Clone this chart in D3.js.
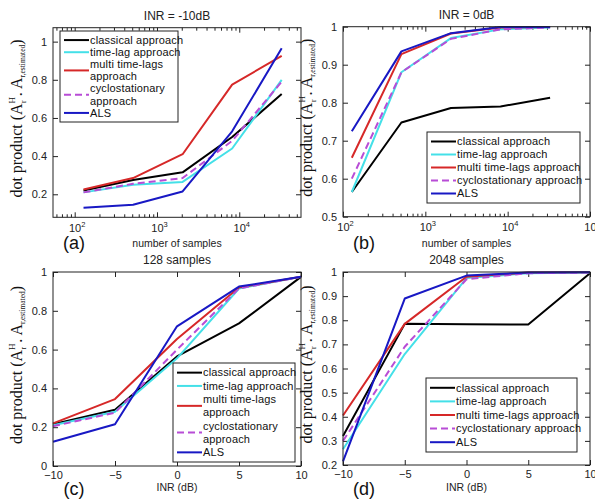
<!DOCTYPE html>
<html>
<head>
<meta charset="utf-8">
<script src="https://cdn.jsdelivr.net/npm/d3@7"></script>
<style>
  body { margin: 0; background: #fff; }
  svg { display: block; font-family: "Liberation Sans", Arial, sans-serif; }
</style>
</head>
<body>
<svg id="fig" width="595" height="499"></svg>
<script>
/* series shared by all four panels */
const seriesNames = ["classical approach", "time-lag approach", "multi time-lags approach", "cyclostationary approach", "ALS"];
const wrappedNames = [["classical approach"], ["time-lag approach"], ["multi time-lags", "approach"], ["cyclostationary", "approach"], ["ALS"]];
const seriesColors = ["#000000", "#44e0e8", "#d62828", "#b84cd6", "#1818c4"];
const seriesDash = [null, null, null, "7,4", null];

const sampleCounts = [128, 512, 2048, 8192, 32768];
const inrLevels = [-10, -5, 0, 5, 10];

// (a) INR = -10dB, one row per series
const inrMinus10 = [
    [0.22, 0.275, 0.315, 0.50, 0.725],
    [0.21, 0.25, 0.265, 0.44, 0.80],
    [0.225, 0.285, 0.41, 0.775, 0.925],
    [0.21, 0.255, 0.285, 0.48, 0.79],
    [0.13, 0.145, 0.215, 0.53, 0.965]
];
// (b) INR = 0dB
const inrZero = [
    [0.565, 0.748, 0.786, 0.79, 0.813],
    [0.565, 0.88, 0.97, 0.993, 0.998],
    [0.655, 0.928, 0.982, 0.998, 0.999],
    [0.60, 0.88, 0.968, 0.993, 0.998],
    [0.725, 0.935, 0.983, 0.999, 0.999]
];
// (c) 128 samples
const samples128 = [
    [0.215, 0.29, 0.565, 0.735, 0.975],
    [0.21, 0.28, 0.555, 0.915, 0.975],
    [0.22, 0.345, 0.655, 0.92, 0.975],
    [0.205, 0.275, 0.60, 0.915, 0.975],
    [0.125, 0.215, 0.72, 0.925, 0.975]
];
// (d) 2048 samples
const samples2048 = [
    [0.32, 0.785, 0.783, 0.782, 0.995],
    [0.265, 0.66, 0.975, 0.995, 0.998],
    [0.405, 0.785, 0.98, 0.998, 0.999],
    [0.30, 0.69, 0.97, 0.995, 0.998],
    [0.215, 0.89, 0.985, 0.998, 0.999]
];

const svg = d3.select("#fig");

const panels = [
    { tag: "(a)", title: "INR = -10dB", xlabel: "number of samples", values: inrMinus10, xs: sampleCounts,
      log: true, xDomain: [54.5, 56234], xTicks: [1e2, 1e3, 1e4],
      yDomain: [0.0794, 1.073], yTicks: [0.2, 0.4, 0.6, 0.8, 1],
      box: { l: 53, t: 27.7, r: 301, b: 217.3 }, labelDy: 30, tagDy: 32,
      legend: { x: 60, y: 31, w: 118, h: 91, wrap: true } },
    { tag: "(b)", title: "INR = 0dB", xlabel: "number of samples", values: inrZero, xs: sampleCounts,
      log: true, xDomain: [1e2, 1e5], xTicks: [1e2, 1e3, 1e4, 1e5],
      yDomain: [0.5, 1], yTicks: [0.5, 0.6, 0.7, 0.8, 0.9, 1],
      box: { l: 343, t: 26.7, r: 590, b: 216.7 }, labelDy: 30, tagDy: 32,
      legend: { x: 427, y: 132, w: 153, h: 71, wrap: false } },
    { tag: "(c)", title: "128 samples", xlabel: "INR (dB)", values: samples128, xs: inrLevels,
      log: false, xDomain: [-10, 10], xTicks: inrLevels,
      yDomain: [0, 1], yTicks: [0, 0.2, 0.4, 0.6, 0.8, 1],
      box: { l: 53, t: 272, r: 301, b: 466 }, labelDy: 25, tagDy: 29,
      legend: { x: 173, y: 363, w: 122, h: 99, wrap: true } },
    { tag: "(d)", title: "2048 samples", xlabel: "INR (dB)", values: samples2048, xs: inrLevels,
      log: false, xDomain: [-10, 10], xTicks: inrLevels,
      yDomain: [0.2, 1], yTicks: [0.2, 0.3, 0.4, 0.5, 0.6, 0.7, 0.8, 0.9, 1],
      box: { l: 343, t: 272, r: 590, b: 465 }, labelDy: 26, tagDy: 30,
      legend: { x: 426, y: 378, w: 151, h: 74, wrap: false } }
];

panels.forEach(drawPanel);

/**
 * Draws one subplot: box, inward ticks on four sides, lines, legend and texts
 */
function drawPanel(p) {
    const b = p.box;
    const g = svg.append("g");

    const x = (p.log ? d3.scaleLog() : d3.scaleLinear()).domain(p.xDomain).range([b.l, b.r]);
    const y = d3.scaleLinear().domain(p.yDomain).range([b.b, b.t]);

    g.append("rect")
        .attr("x", b.l).attr("y", b.t)
        .attr("width", b.r - b.l).attr("height", b.b - b.t)
        .attr("fill", "#fff");

    // minor ticks for log axes (2..9 x 10^k)
    if (p.log) {
        const minor = [];
        for (let e = 1; e <= 5; e++) {
            for (let m = 2; m <= 9; m++) {
                const v = m * Math.pow(10, e);
                if (v > p.xDomain[0] && v < p.xDomain[1]) minor.push(v);
            }
        }
        g.append("g").attr("transform", `translate(0,${b.b})`)
            .call(d3.axisBottom(x).tickValues(minor).tickSize(-3).tickFormat(""));
        g.append("g").attr("transform", `translate(0,${b.t})`)
            .call(d3.axisTop(x).tickValues(minor).tickSize(-3).tickFormat(""));
    }

    const xAxis = g.append("g").attr("class", "xaxis")
        .attr("transform", `translate(0,${b.b})`)
        .call(d3.axisBottom(x).tickValues(p.xTicks).tickSize(-5).tickPadding(p.log ? 7 : 5)
            .tickFormat(p.log ? "" : d3.format("~g")));
    g.append("g").attr("transform", `translate(0,${b.t})`)
        .call(d3.axisTop(x).tickValues(p.xTicks).tickSize(-5).tickFormat(""));

    g.append("g").attr("transform", `translate(${b.l},0)`)
        .call(d3.axisLeft(y).tickValues(p.yTicks).tickSize(-5).tickPadding(6).tickFormat(d3.format("~g")));
    g.append("g").attr("transform", `translate(${b.r},0)`)
        .call(d3.axisRight(y).tickValues(p.yTicks).tickSize(-5).tickFormat(""));

    if (p.log) {
        // "10" with a raised exponent
        xAxis.selectAll(".tick text").each(function(d) {
            const t = d3.select(this).text(null).attr("dx", "2");
            t.append("tspan").text("10");
            t.append("tspan").attr("dy", "-5").attr("font-size", "7.5px")
                .text(Math.round(Math.log10(d)));
        });
    }

    g.selectAll(".domain").remove();
    g.selectAll(".tick line").attr("stroke", "#222");
    g.selectAll(".tick text").attr("font-size", "11px").attr("fill", "#222")
        .attr("font-family", "Liberation Sans, Arial, sans-serif");

    // series lines
    const line = d3.line().x((d, i) => x(p.xs[i])).y(d => y(d));
    p.values.forEach((vals, s) => {
        g.append("path")
            .datum(vals)
            .attr("d", line)
            .attr("fill", "none")
            .attr("stroke", seriesColors[s])
            .attr("stroke-width", 2)
            .attr("stroke-dasharray", seriesDash[s])
            .attr("stroke-linejoin", "round");
    });

    g.append("rect")
        .attr("x", b.l).attr("y", b.t)
        .attr("width", b.r - b.l).attr("height", b.b - b.t)
        .attr("fill", "none").attr("stroke", "#222").attr("stroke-width", 1);

    drawLegend(g, p.legend);

    // title, x label, panel tag
    const cx = (b.l + b.r) / 2;
    g.append("text").attr("x", cx).attr("y", b.t - 8)
        .attr("text-anchor", "middle").attr("font-size", "12px").attr("fill", "#222")
        .text(p.title);
    g.append("text").attr("x", cx).attr("y", b.b + p.labelDy)
        .attr("text-anchor", "middle").attr("font-size", "10.5px").attr("fill", "#222")
        .text(p.xlabel);
    g.append("text").attr("x", b.l + 21).attr("y", b.b + p.tagDy)
        .attr("text-anchor", "middle").attr("font-size", "18px").attr("fill", "#111")
        .text(p.tag);

    drawYLabel(g, b.l - 31, (b.t + b.b) / 2 - 4);
}

/**
 * Legend box; wrapped labels take two rows
 */
function drawLegend(g, L) {
    const rows = L.wrap ? wrappedNames : seriesNames.map(n => [n]);
    const nRows = d3.sum(rows, r => r.length);
    const step = (L.h - 6) / nRows;
    const lg = g.append("g");
    lg.append("rect")
        .attr("x", L.x).attr("y", L.y).attr("width", L.w).attr("height", L.h)
        .attr("fill", "#fff").attr("stroke", "#222").attr("stroke-width", 1);

    let row = 0;
    rows.forEach((lines, s) => {
        const top = L.y + 3 + row * step;
        const mid = top + step * lines.length / 2;
        lg.append("line")
            .attr("x1", L.x + 4).attr("x2", L.x + 29)
            .attr("y1", mid).attr("y2", mid)
            .attr("stroke", seriesColors[s]).attr("stroke-width", 2)
            .attr("stroke-dasharray", seriesDash[s]);
        lines.forEach((txt, k) => {
            lg.append("text")
                .attr("x", L.x + 30)
                .attr("y", top + step * (k + 0.5) + 3.8)
                .attr("font-size", "11px").attr("letter-spacing", "0.15px").attr("fill", "#111")
                .text(txt);
        });
        row += lines.length;
    });
}

/**
 * Rotated serif label: dot product (A_r^H . A_r,estimated)
 */
function drawYLabel(g, cx, cy) {
    const t = g.append("text")
        .attr("transform", `translate(${cx},${cy}) rotate(-90)`)
        .attr("text-anchor", "middle")
        .attr("font-family", "Liberation Serif, Times New Roman, serif")
        .attr("font-size", "16px").attr("fill", "#111");
    t.append("tspan").text("dot product (");
    t.append("tspan").text("A");
    t.append("tspan").attr("font-size", "9px").attr("dy", "-7").text("H");
    t.append("tspan").attr("font-size", "8px").attr("dx", "-6").attr("dy", "11").text("r");
    t.append("tspan").attr("dy", "-4").text(" . A");
    t.append("tspan").attr("font-size", "7.5px").attr("dy", "3").text("r,estimated");
    t.append("tspan").attr("dy", "-3").text(")");
}
</script>
</body>
</html>
